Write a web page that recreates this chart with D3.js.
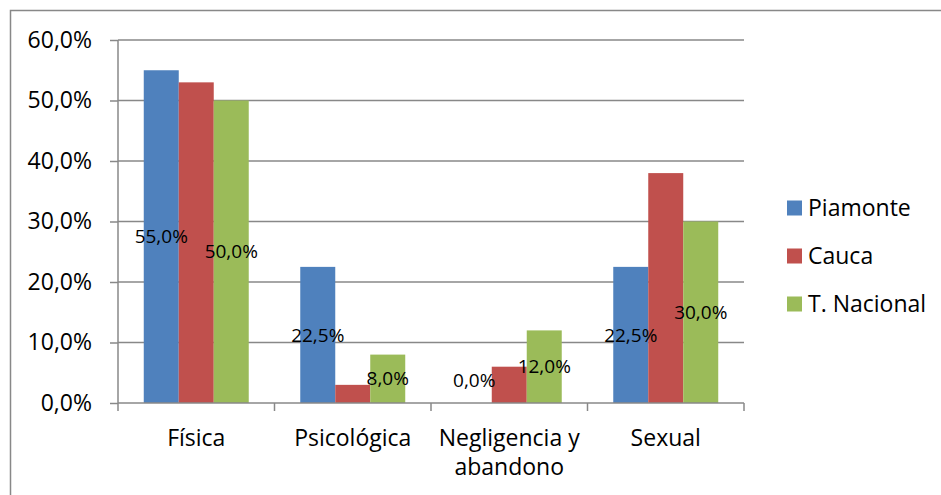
<!DOCTYPE html>
<html><head><meta charset="utf-8">
<script src="https://cdn.jsdelivr.net/npm/d3@7"></script>
<style>body{margin:0;background:#fff}svg{display:block}text{font-family:"Open Sans","Liberation Sans",sans-serif;fill:#000}</style>
</head><body><svg id="c" width="941" height="495"></svg>
<script>
const categories = [["Física"], ["Psicológica"], ["Negligencia y", "abandono"], ["Sexual"]];
const seriesNames = ["Piamonte", "Cauca", "T. Nacional"];
const piamonte = [55.0, 22.5, 0.0, 22.5];
const cauca = [53.0, 3.0, 6.0, 38.0];
const nacional = [50.0, 8.0, 12.0, 30.0];
const showLabels = [true, false, true];
const yTicks = [0, 10, 20, 30, 40, 50, 60];
const colors = ["#4F81BD", "#C0504D", "#9BBB59"];

const series = [piamonte, cauca, nacional];
const svg = d3.select("#c");
const L = 118, R = 744, T = 40, B = 403;
const fmt = v => v.toFixed(1).replace(".", ",") + "%";

svg.append("rect").attr("x", 10.5).attr("y", 10.5).attr("width", 940).attr("height", 495)
  .attr("fill", "none").attr("stroke", "#888").attr("stroke-width", 1.5);

const x0 = d3.scaleBand().domain(d3.range(categories.length)).range([L, R]).paddingInner(0).paddingOuter(0);
const x1 = d3.scaleBand().domain(d3.range(series.length)).range([0, x0.bandwidth()]).paddingOuter(0.736).paddingInner(0);
const y = d3.scaleLinear().domain([0, 60]).range([B, T]);

// gridlines
svg.append("g").selectAll("line").data(yTicks.filter(t => t > 0)).join("line")
  .attr("x1", L).attr("x2", R).attr("y1", d => y(d)).attr("y2", d => y(d))
  .attr("stroke", "#888").attr("stroke-width", 1.5);

// y axis
const ya = svg.append("g").attr("transform", `translate(${L},0)`)
  .call(d3.axisLeft(y).tickValues(yTicks).tickSize(8).tickPadding(18).tickFormat(fmt));
ya.select(".domain").attr("stroke", "#888").attr("stroke-width", 1.5).attr("d", `M0,${T}V${B}`);
ya.selectAll(".tick line").attr("stroke", "#888").attr("stroke-width", 1.5);
ya.selectAll(".tick text").attr("font-size", 23).attr("font-family", "'Open Sans',sans-serif").attr("fill", "#000");

// bars
series.forEach((s, si) => {
  svg.append("g").selectAll("rect").data(s).join("rect")
    .attr("x", (d, i) => x0(i) + x1(si))
    .attr("width", x1.bandwidth())
    .attr("y", d => y(d))
    .attr("height", d => y(0) - y(d))
    .attr("fill", colors[si]);
});

// x axis
const xa = svg.append("g");
xa.append("line").attr("x1", L).attr("x2", R).attr("y1", B).attr("y2", B).attr("stroke", "#888").attr("stroke-width", 1.5);
xa.selectAll("line.t").data(d3.range(categories.length + 1)).join("line").attr("class", "t")
  .attr("x1", i => L + i * x0.step()).attr("x2", i => L + i * x0.step())
  .attr("y1", B).attr("y2", B + 8).attr("stroke", "#888").attr("stroke-width", 1.5);
categories.forEach((lines, i) => {
  lines.forEach((ln, k) => {
    svg.append("text").attr("x", x0(i) + x0.bandwidth() / 2).attr("y", 438 + k * 29)
      .attr("dy", "0.35em").attr("text-anchor", "middle").attr("font-size", 23).text(ln);
  });
});

// data labels
series.forEach((s, si) => {
  if (!showLabels[si]) return;
  svg.append("g").selectAll("text").data(s).join("text")
    .attr("x", (d, i) => x0(i) + x1(si) + x1.bandwidth() / 2)
    .attr("y", d => Math.min((y(d) + y(0)) / 2, y(0) - 23))
    .attr("dy", "0.35em").attr("text-anchor", "middle").attr("font-size", 19)
    .text(d => fmt(d));
});

// legend
const lg = svg.append("g");
seriesNames.forEach((n, i) => {
  const cy = 208 + i * 48;
  lg.append("rect").attr("x", 787).attr("y", cy - 7.5).attr("width", 15).attr("height", 15).attr("fill", colors[i]);
  lg.append("text").attr("x", 808).attr("y", cy).attr("dy", "0.35em").attr("font-size", 23).text(n);
});
</script></body></html>
